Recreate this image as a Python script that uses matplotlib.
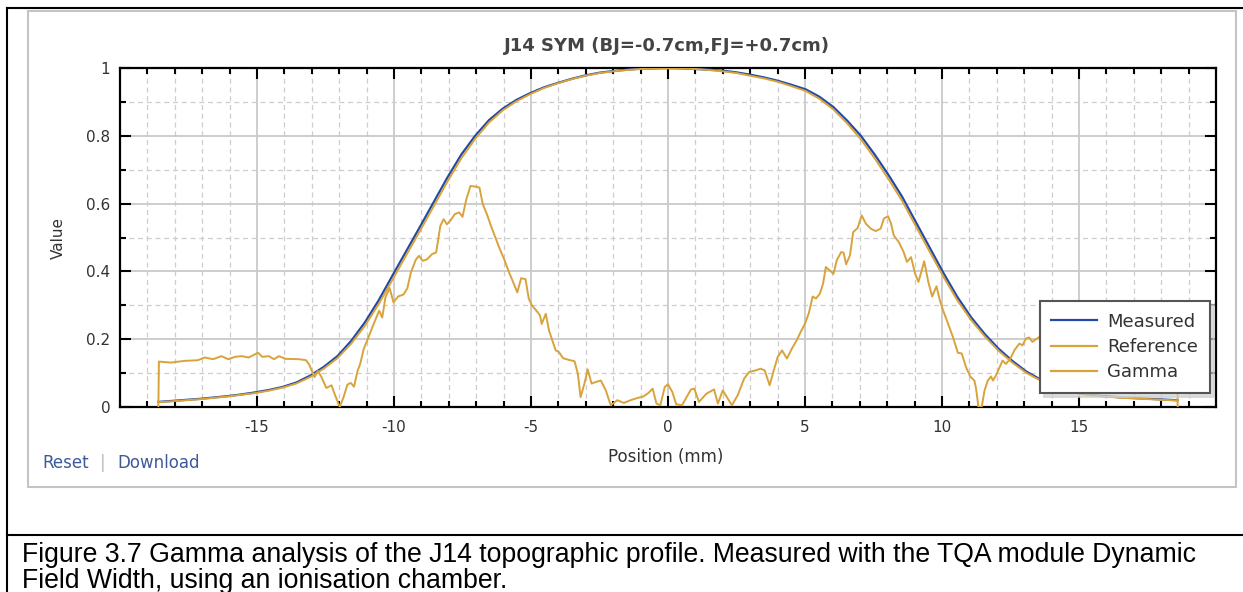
import numpy as np
import matplotlib
matplotlib.use("Agg")
import matplotlib.pyplot as plt
from matplotlib.lines import Line2D
from matplotlib.patches import Rectangle

# ---------------- data ----------------
title = "J14 SYM (BJ=-0.7cm,FJ=+0.7cm)"
x_label = "Position (mm)"
y_label = "Value"
series_names = ["Measured", "Reference", "Gamma"]
x_tick_values = [-15, -10, -5, 0, 5, 10, 15]
x_tick_labels = ["-15", "-10", "-5", "0", "5", "10", "15"]
y_tick_values = [0, 0.2, 0.4, 0.6, 0.8, 1.0]
y_tick_labels = ["0", "0.2", "0.4", "0.6", "0.8", "1"]
caption = ("Figure 3.7 Gamma analysis of the J14 topographic profile. Measured with the TQA module Dynamic\n"
           "Field Width, using an ionisation chamber.")

profile_pos = np.linspace(-18.6, 18.6, 75)
measured = [0.015, 0.018, 0.021, 0.024, 0.028, 0.032, 0.037, 0.043, 0.050, 0.059,
            0.072, 0.092, 0.118, 0.150, 0.195, 0.250, 0.315, 0.388, 0.460, 0.532,
            0.605, 0.678, 0.745, 0.800, 0.846, 0.880, 0.906, 0.926, 0.943, 0.956,
            0.968, 0.978, 0.986, 0.991, 0.995, 0.998, 0.999,
            1.000,
            0.999, 0.997, 0.995, 0.992, 0.987, 0.980, 0.972, 0.962, 0.950, 0.937,
            0.915, 0.885, 0.845, 0.800, 0.745, 0.685, 0.620, 0.545, 0.470, 0.395,
            0.325, 0.265, 0.215, 0.172, 0.136, 0.105, 0.082, 0.064, 0.050, 0.040,
            0.034, 0.031, 0.028, 0.026, 0.024, 0.022, 0.020]
reference = [0.014, 0.017, 0.020, 0.023, 0.027, 0.031, 0.036, 0.041, 0.048, 0.057,
             0.069, 0.088, 0.113, 0.144, 0.187, 0.240, 0.304, 0.376, 0.448, 0.520,
             0.593, 0.666, 0.734, 0.791, 0.839, 0.875, 0.902, 0.923, 0.941, 0.955,
             0.967, 0.977, 0.985, 0.990, 0.994, 0.997, 0.999,
             0.999,
             0.999, 0.997, 0.994, 0.990, 0.985, 0.977, 0.969, 0.959, 0.946, 0.932,
             0.909, 0.878, 0.837, 0.790, 0.734, 0.673, 0.608, 0.533, 0.458, 0.384,
             0.315, 0.257, 0.208, 0.166, 0.131, 0.101, 0.079, 0.062, 0.048, 0.039,
             0.033, 0.030, 0.027, 0.025, 0.023, 0.021, 0.019]

gamma_pos = [-18.60, -18.58, -18.15, -17.65, -17.16, -16.91, -16.60, -16.30, -16.05, -15.80,
             -15.56, -15.31, -14.96, -14.81, -14.57, -14.38, -14.20, -13.95, -13.46, -13.21,
             -13.09, -12.90, -12.78, -12.65, -12.47, -12.28, -12.16, -11.98, -11.85, -11.70,
             -11.58, -11.46, -11.33, -11.23, -11.11, -10.96, -10.80, -10.62, -10.54, -10.43,
             -10.31, -10.16, -10.02, -9.85, -9.65, -9.51, -9.38, -9.20, -9.09, -8.95,
             -8.79, -8.61, -8.46, -8.31, -8.19, -8.07, -7.95, -7.78, -7.62, -7.50,
             -7.36, -7.21, -7.00, -6.88, -6.76, -6.61, -6.46, -6.30, -6.14, -5.98,
             -5.80, -5.65, -5.50, -5.36, -5.20, -5.08, -4.96, -4.82, -4.67, -4.61,
             -4.46, -4.34, -4.22, -4.10, -3.98, -3.83, -3.62, -3.41, -3.29, -3.19,
             -3.05, -2.93, -2.79, -2.63, -2.45, -2.27, -2.09, -1.85, -1.61, -1.37,
             -1.14, -0.90, -0.72, -0.56, -0.42, -0.28, -0.12, 0.00, 0.16, 0.30,
             0.51, 0.68, 0.84, 0.96, 1.13, 1.40, 1.68, 1.82, 2.00, 2.18,
             2.33, 2.54, 2.78, 2.96, 3.20, 3.38, 3.53, 3.71, 3.86, 4.00,
             4.16, 4.34, 4.52, 4.70, 4.84, 5.00, 5.14, 5.28, 5.40, 5.54,
             5.66, 5.76, 5.90, 6.04, 6.16, 6.32, 6.41, 6.50, 6.64, 6.76,
             6.92, 7.07, 7.22, 7.40, 7.58, 7.76, 7.88, 8.03, 8.14, 8.24,
             8.42, 8.60, 8.72, 8.87, 9.02, 9.14, 9.26, 9.35, 9.50, 9.64,
             9.80, 9.92, 10.04, 10.22, 10.40, 10.58, 10.72, 10.88, 11.03, 11.18,
             11.24, 11.33, 11.45, 11.55, 11.67, 11.79, 11.86, 11.97, 12.09, 12.21,
             12.33, 12.49, 12.64, 12.82, 12.94, 13.06, 13.18, 13.30, 13.60, 14.00,
             14.50, 15.00, 15.50, 16.00, 16.50, 17.00, 17.50, 18.00, 18.58, 18.60]
gamma = [0.000, 0.134, 0.131, 0.136, 0.138, 0.146, 0.141, 0.150, 0.141, 0.148,
         0.150, 0.146, 0.160, 0.148, 0.150, 0.141, 0.150, 0.142, 0.141, 0.138,
         0.124, 0.088, 0.106, 0.089, 0.056, 0.064, 0.037, 0.000, 0.027, 0.066,
         0.071, 0.060, 0.106, 0.128, 0.170, 0.200, 0.233, 0.269, 0.284, 0.264,
         0.324, 0.351, 0.309, 0.326, 0.332, 0.351, 0.398, 0.435, 0.446, 0.431,
         0.436, 0.451, 0.456, 0.534, 0.554, 0.539, 0.549, 0.569, 0.574, 0.561,
         0.613, 0.652, 0.650, 0.647, 0.598, 0.569, 0.534, 0.500, 0.466, 0.436,
         0.397, 0.368, 0.338, 0.380, 0.377, 0.319, 0.299, 0.286, 0.270, 0.245,
         0.275, 0.225, 0.196, 0.167, 0.162, 0.144, 0.139, 0.135, 0.098, 0.029,
         0.069, 0.111, 0.069, 0.074, 0.078, 0.049, 0.005, 0.020, 0.012, 0.020,
         0.026, 0.031, 0.041, 0.054, 0.010, 0.005, 0.059, 0.067, 0.044, 0.008,
         0.005, 0.029, 0.052, 0.054, 0.015, 0.039, 0.052, 0.010, 0.049, 0.025,
         0.005, 0.034, 0.084, 0.103, 0.108, 0.113, 0.108, 0.064, 0.108, 0.147,
         0.167, 0.143, 0.172, 0.197, 0.221, 0.246, 0.277, 0.326, 0.320, 0.334,
         0.364, 0.413, 0.403, 0.393, 0.433, 0.457, 0.455, 0.421, 0.447, 0.516,
         0.528, 0.565, 0.541, 0.526, 0.519, 0.526, 0.556, 0.563, 0.541, 0.506,
         0.487, 0.457, 0.428, 0.442, 0.393, 0.369, 0.403, 0.430, 0.369, 0.326,
         0.356, 0.315, 0.285, 0.246, 0.206, 0.160, 0.158, 0.117, 0.090, 0.078,
         0.056, 0.000, 0.000, 0.048, 0.078, 0.090, 0.078, 0.093, 0.115, 0.137,
         0.127, 0.142, 0.167, 0.187, 0.182, 0.202, 0.205, 0.192, 0.210, 0.200,
         0.185, 0.170, 0.160, 0.150, 0.145, 0.140, 0.135, 0.130, 0.120, 0.000]

# ---------------- style ----------------
W, H = 1243, 592
BLUE = "#2149a8"
GOLD = "#d9a33c"


def fx(px):
    return px / W


def fy(py):
    return 1 - py / H


plt.rcParams["font.family"] = ["DejaVu Sans"]
fig = plt.figure(figsize=(W / 100, H / 100), dpi=100)
fig.patch.set_facecolor("white")

ax = fig.add_axes([fx(120), fy(407), (1216 - 120) / W, (407 - 68) / H])

ax.plot(profile_pos, measured, color=BLUE, lw=1.6, label=series_names[0], zorder=3)
ax.plot(profile_pos, reference, color=GOLD, lw=1.4, label=series_names[1], zorder=4)
ax.plot(gamma_pos, gamma, color=GOLD, lw=1.4, label=series_names[2], zorder=5)

ax.set_xlim(-20, 20)
ax.set_ylim(0, 1)
ax.set_xticks(x_tick_values)
ax.set_xticklabels(x_tick_labels)
ax.set_xticks([v for v in range(-19, 20) if v % 5 != 0], minor=True)
ax.set_yticks(y_tick_values)
ax.set_yticklabels(y_tick_labels)
ax.set_yticks([0.1, 0.3, 0.5, 0.7, 0.9], minor=True)

ax.grid(which="major", color="#c9c9c9", lw=1.3, ls="-", zorder=0)
ax.grid(which="minor", color="#cdcdcd", lw=0.9, ls=(0, (4, 3)), zorder=0)
ax.set_axisbelow(True)

ax.tick_params(which="both", direction="in", top=True, right=True, color="black",
               width=1.5, labelsize=11, labelcolor="#333333")
ax.tick_params(which="major", length=8)
ax.tick_params(axis="x", which="major", pad=9)
ax.tick_params(axis="y", which="major", pad=7)
ax.tick_params(which="minor", length=4)
for s in ax.spines.values():
    s.set_linewidth(1.6)
    s.set_color("black")

leg = ax.legend(loc="lower right", bbox_to_anchor=(0.9945, 0.0413), borderaxespad=0,
                frameon=True, fancybox=False, framealpha=1, edgecolor="#555555",
                fontsize=13, handlelength=2.5, handletextpad=0.6, labelspacing=0.4,
                borderpad=0.65,
                shadow={"ox": 3, "oy": -3, "color": "#cfcfcf", "alpha": 0.7})
leg.get_frame().set_linewidth(1.5)
for t in leg.get_texts():
    t.set_color("#333333")
for l in leg.get_lines():
    l.set_linewidth(1.6)

# titles and labels
fig.text(fx(667), fy(46), title, ha="center", va="center", fontsize=13,
         fontweight="bold", color="#444444")
fig.text(fx(666), fy(457), x_label, ha="center", va="center", fontsize=12, color="#333333")
fig.text(fx(58), fy(238), y_label, ha="center", va="center", fontsize=11,
         color="#333333", rotation=90)

# Reset | Download links
fig.text(fx(42), fy(463), "Reset", ha="left", va="center", fontsize=12, color="#3d5a98")
fig.text(fx(103), fy(463), "|", ha="center", va="center", fontsize=12, color="#bbbbbb")
fig.text(fx(117), fy(463), "Download", ha="left", va="center", fontsize=12, color="#3d5a98")

# chart panel border
fig.add_artist(Rectangle((fx(28), fy(487)), (1236 - 28) / W, (487 - 11) / H,
                         transform=fig.transFigure, fill=False, ec="#c4c4c4", lw=1.5))

# document borders
fig.add_artist(Line2D([fx(7), fx(1243)], [fy(8), fy(8)], color="black", lw=1.5))
fig.add_artist(Line2D([fx(7), fx(7)], [fy(8), fy(592)], color="black", lw=1.5))
fig.add_artist(Line2D([fx(7), fx(1243)], [fy(535), fy(535)], color="black", lw=1.5))

# caption
fig.text(fx(22), fy(542), caption, ha="left", va="top", fontsize=19.2,
         family=["Liberation Sans", "DejaVu Sans"], color="black", linespacing=1.02)

fig.savefig("out.png", dpi=100)
